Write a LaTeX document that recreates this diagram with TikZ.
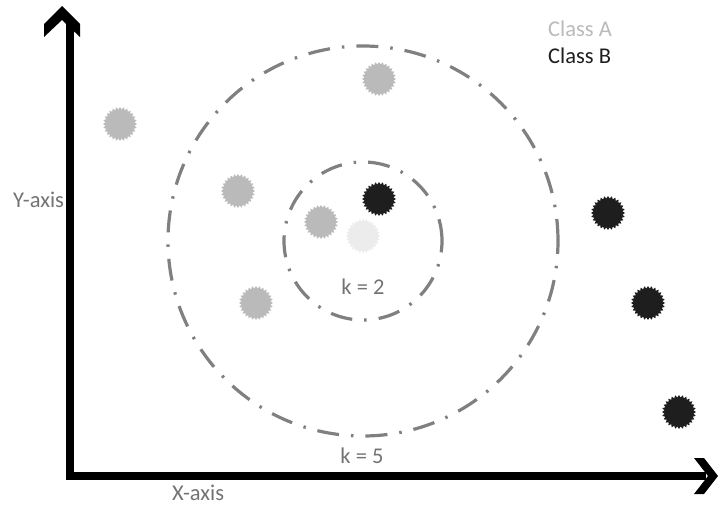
\documentclass[tikz,border=0pt]{standalone}
\usepackage{fontspec}
\setmainfont{Carlito}
\usetikzlibrary{shapes.geometric}
\definecolor{clsA}{RGB}{186,186,186}
\definecolor{clsB}{RGB}{30,30,30}
\definecolor{qry}{RGB}{236,236,236}
\definecolor{ring}{RGB}{128,128,128}
\definecolor{lbl}{RGB}{115,115,115}
\tikzset{
  pt/.style={star, star points=28, star point ratio=1.17, minimum size=34pt, inner sep=0pt, draw=none},
  ptA/.style={pt, fill=clsA},
  ptB/.style={pt, fill=clsB},
  ptQ/.style={pt, fill=qry},
  ringline/.style={draw=ring, line width=3.2pt, dash pattern=on 22pt off 12pt on 2.5pt off 12pt},
  axisline/.style={line width=8pt, line join=miter},
  txt/.style={font=\fontsize{22.5}{26}\selectfont, inner sep=0pt},
}
\begin{document}
\begin{tikzpicture}[x=1pt,y=-1pt]
\useasboundingbox (0,0) rectangle (718,506);
% circles
\node[circle, ringline, minimum size=390pt, inner sep=0pt] (outer) at (363,241) {};
\node[circle, ringline, minimum size=158pt, inner sep=0pt] (inner) at (363,241) {};
% axes
\coordinate (ytop) at (69.5,20);
\coordinate (xend) at (706,476);
\draw[axisline] (ytop) |- (xend);
\fill (62,6) -- (80,24) -- (80,37) -- (62,20) -- (44,37) -- (44,24) -- cycle;
\fill (694,458) -- (704,458) -- (718,476) -- (704,494) -- (694,494) -- (708,476) -- cycle;
% labels
\node[txt, text=lbl, anchor=base west] (ylab) at (13,207) {Y-axis};
\node[txt, text=lbl, anchor=base west] (xlab) at (172,500) {X-axis};
\node[txt, text=lbl, anchor=base] (k2) at (363,294) {k = 2};
\node[txt, text=lbl, anchor=base] (k5) at (362,463) {k = 5};
\node[txt, text=clsA, anchor=base west] (la) at (548,36) {Class A};
\node[txt, text=clsB, anchor=base west] (lb) at (548,63) {Class B};
% class A points
\node[ptA] (a1) at (120,124) {};
\node[ptA] (a2) at (379,79) {};
\node[ptA] (a3) at (238,191) {};
\node[ptA] (a4) at (321,222) {};
\node[ptA] (a5) at (256,303) {};
% query
\node[ptQ] (q) at (363,236) {};
% class B points
\node[ptB] (b1) at (379,199) {};
\node[ptB] (b2) at (608,213) {};
\node[ptB] (b3) at (648,303) {};
\node[ptB] (b4) at (679,412) {};
\end{tikzpicture}
\end{document}
